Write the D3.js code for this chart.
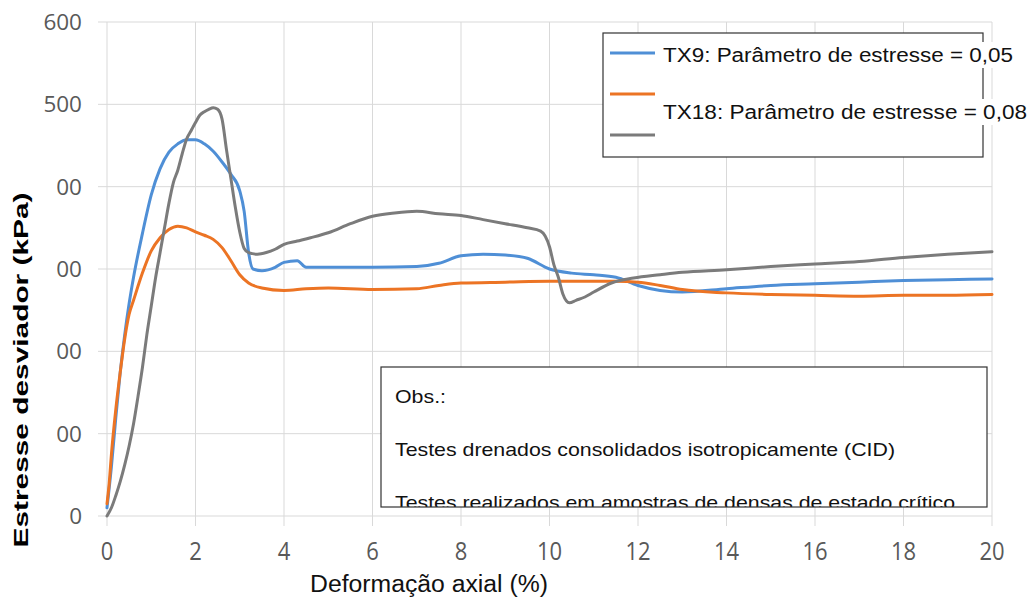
<!DOCTYPE html>
<html><head><meta charset="utf-8">
<script src="https://cdn.jsdelivr.net/npm/d3@7"></script>
<style>body{margin:0;background:#fff}svg{display:block}</style>
</head><body><svg id="c" width="1030" height="598"></svg>
<script>
const xTicks = [0,2,4,6,8,10,12,14,16,18,20];
const yTicks = [0,100,200,300,400,500,600];
const seriesNames = ["TX9: Parâmetro de estresse = 0,05", "", "TX18: Parâmetro de estresse = 0,08"];
const colors = ["#4f8fd6", "#ec7424", "#7b7b7b"];
const blueX = [0,0.1,0.2,0.3,0.4,0.5,0.6,0.8,1.0,1.2,1.4,1.6,1.8,2.0,2.2,2.4,2.6,2.8,3.0,3.1,3.2,3.3,3.5,3.8,4.0,4.3,4.5,5,6,7,7.5,8,8.5,9,9.5,10,10.5,11,11.5,12,12.5,13,14,15,16,17,18,19,20];
const blueY = [10,60,120,175,220,258,290,343,390,422,442,452,457,457,452,443,430,415,395,370,320,300,298,302,308,310,302,302,302,303,307,316,318,317,313,300,295,293,290,280,274,272,276,280,282,284,286,287,288];
const orangeX = [0,0.05,0.1,0.2,0.3,0.4,0.5,0.6,0.8,1.0,1.2,1.4,1.6,1.8,2.0,2.2,2.4,2.6,2.8,3.0,3.2,3.5,4,4.5,5,6,7,7.5,8,9,10,11,11.5,12,12.5,13,14,15,16,17,18,19,20];
const orangeY = [15,40,75,130,175,215,245,262,295,322,338,348,352,350,345,341,336,326,310,293,283,277,274,276,277,275,276,280,283,284,285,285,285,284,280,275,271,269,268,267,268,268,269];
const grayX = [0,0.1,0.2,0.3,0.4,0.5,0.6,0.7,0.8,0.9,1.0,1.1,1.2,1.3,1.4,1.5,1.6,1.7,1.8,1.9,2.0,2.1,2.2,2.3,2.4,2.5,2.6,2.7,2.8,2.9,3.0,3.1,3.2,3.4,3.6,3.8,4.0,4.3,4.6,5.0,5.5,6,6.5,7,7.5,8,8.5,9,9.5,9.8,10.0,10.1,10.2,10.3,10.45,10.6,10.8,11.0,11.4,11.9,12.5,13,14,15,16,17,18,19,20];
const grayY = [0,10,25,42,62,85,112,145,180,220,255,290,320,350,380,405,420,440,458,468,478,487,491,494,496,494,482,445,410,375,345,325,320,318,320,324,330,334,338,344,355,364,368,370,367,365,360,355,350,346,327,305,290,270,259,262,266,272,283,289,293,296,299,303,306,309,314,318,321];
const obsLines = ["Obs.:", "Testes drenados consolidados isotropicamente (CID)", "Testes realizados em amostras de densas de estado crítico"];
const xTitle = "Deformação axial (%)";
const yTitle = "Estresse desviador (kPa)";

const svg = d3.select("#c");
const x = d3.scaleLinear().domain([0,20]).range([107,992]);
const y = d3.scaleLinear().domain([0,600]).range([516,22]);
const grid = "#d9d9d9";

// gridlines
svg.append("g").selectAll("line").data(yTicks).join("line")
  .attr("x1", 98).attr("x2", x(20)).attr("y1", d=>y(d)).attr("y2", d=>y(d))
  .attr("stroke", grid).attr("stroke-width", 1);
svg.append("g").selectAll("line").data(xTicks).join("line")
  .attr("x1", d=>x(d)).attr("x2", d=>x(d)).attr("y1", y(600)).attr("y2", 526)
  .attr("stroke", grid).attr("stroke-width", 1);

// y tick labels
svg.append("g").selectAll("text").data(yTicks).join("text")
  .attr("x", 82).attr("y", d=>y(d)).attr("dy", "0.36em")
  .attr("text-anchor", "end").attr("fill", "#595959")
  .attr("font-family", "'Open Sans', 'Noto Sans', sans-serif").attr("font-size", 22.5)
  .text(d=>d);

// x tick labels (condensed)
svg.append("g").selectAll("g").data(xTicks).join("g")
  .attr("transform", d=>`translate(${x(d)},551) scale(0.88,1)`)
  .append("text").attr("text-anchor","middle").attr("dy","0.36em")
  .attr("fill","#595959").attr("font-family","'Open Sans', 'Noto Sans', sans-serif").attr("font-size",25)
  .text(d=>d);

// lines
const line = d3.line().x(d=>x(d[0])).y(d=>y(d[1])).curve(d3.curveMonotoneX);
const seriesData = [d3.zip(blueX, blueY), d3.zip(orangeX, orangeY), d3.zip(grayX, grayY)];
svg.append("g").selectAll("path").data(seriesData).join("path")
  .attr("d", line).attr("fill","none").attr("stroke",(d,i)=>colors[i])
  .attr("stroke-width",3).attr("stroke-linejoin","round").attr("stroke-linecap","round");

// legend
const lg = svg.append("g");
lg.append("rect").attr("x",603).attr("y",33).attr("width",380).attr("height",124)
  .attr("fill","#fff").attr("stroke","#333").attr("stroke-width",1.2);
const legY = [53, 94, 135];
lg.selectAll("line").data(colors).join("line")
  .attr("x1",610).attr("x2",655).attr("y1",(d,i)=>legY[i]).attr("y2",(d,i)=>legY[i])
  .attr("stroke",d=>d).attr("stroke-width",3);
const legText = [{t:seriesNames[0], y:55, w:350},{t:seriesNames[2], y:112, w:364}];
lg.selectAll("rect.bg").data(legText).join("rect").attr("class","bg")
  .attr("x",660).attr("y",d=>d.y-13).attr("width",d=>d.w+6).attr("height",26).attr("fill","#fff");
lg.selectAll("text").data(legText).join("text")
  .attr("x",663).attr("y",d=>d.y).attr("dy","0.35em")
  .attr("font-family","Arial, 'Liberation Sans', sans-serif").attr("font-size",19.5)
  .attr("textLength",d=>d.w).attr("lengthAdjust","spacingAndGlyphs")
  .attr("fill","#111").text(d=>d.t);

// annotation box
const ab = svg.append("g");
ab.append("clipPath").attr("id","clipobs").append("rect")
  .attr("x",381).attr("y",367).attr("width",606).attr("height",140);
ab.append("rect").attr("x",381).attr("y",367).attr("width",606).attr("height",140)
  .attr("fill","#fff");
const obsY = [397, 450, 503];
const obsW = [51, 500, 560];
ab.append("g").attr("clip-path","url(#clipobs)").selectAll("text").data(obsLines).join("text")
  .attr("x",395).attr("y",(d,i)=>obsY[i]).attr("dy","0.35em")
  .attr("font-family","Arial, 'Liberation Sans', sans-serif").attr("font-size",18.5)
  .attr("textLength",(d,i)=>obsW[i]).attr("lengthAdjust","spacingAndGlyphs")
  .attr("fill","#111").text(d=>d);
ab.append("rect").attr("x",381).attr("y",367).attr("width",606).attr("height",140)
  .attr("fill","none").attr("stroke","#333").attr("stroke-width",1.2);

// y title with white backing covering leading digits
svg.append("rect").attr("x",0).attr("y",150).attr("width",57).attr("height",320).attr("fill","#fff");
svg.append("text").attr("transform","translate(21,370) rotate(-90)")
  .attr("text-anchor","middle").attr("dy","0.35em")
  .attr("font-family","Arial, 'Liberation Sans', sans-serif").attr("font-weight","bold").attr("font-size",20)
  .attr("textLength",355).attr("lengthAdjust","spacingAndGlyphs")
  .attr("fill","#000").text(yTitle);

// x title
svg.append("text").attr("x",429).attr("y",584).attr("text-anchor","middle").attr("dy","0.35em")
  .attr("font-family","Arial, 'Liberation Sans', sans-serif").attr("font-size",23.5)
  .attr("textLength",238).attr("lengthAdjust","spacingAndGlyphs")
  .attr("fill","#111").text(xTitle);
</script></body></html>
